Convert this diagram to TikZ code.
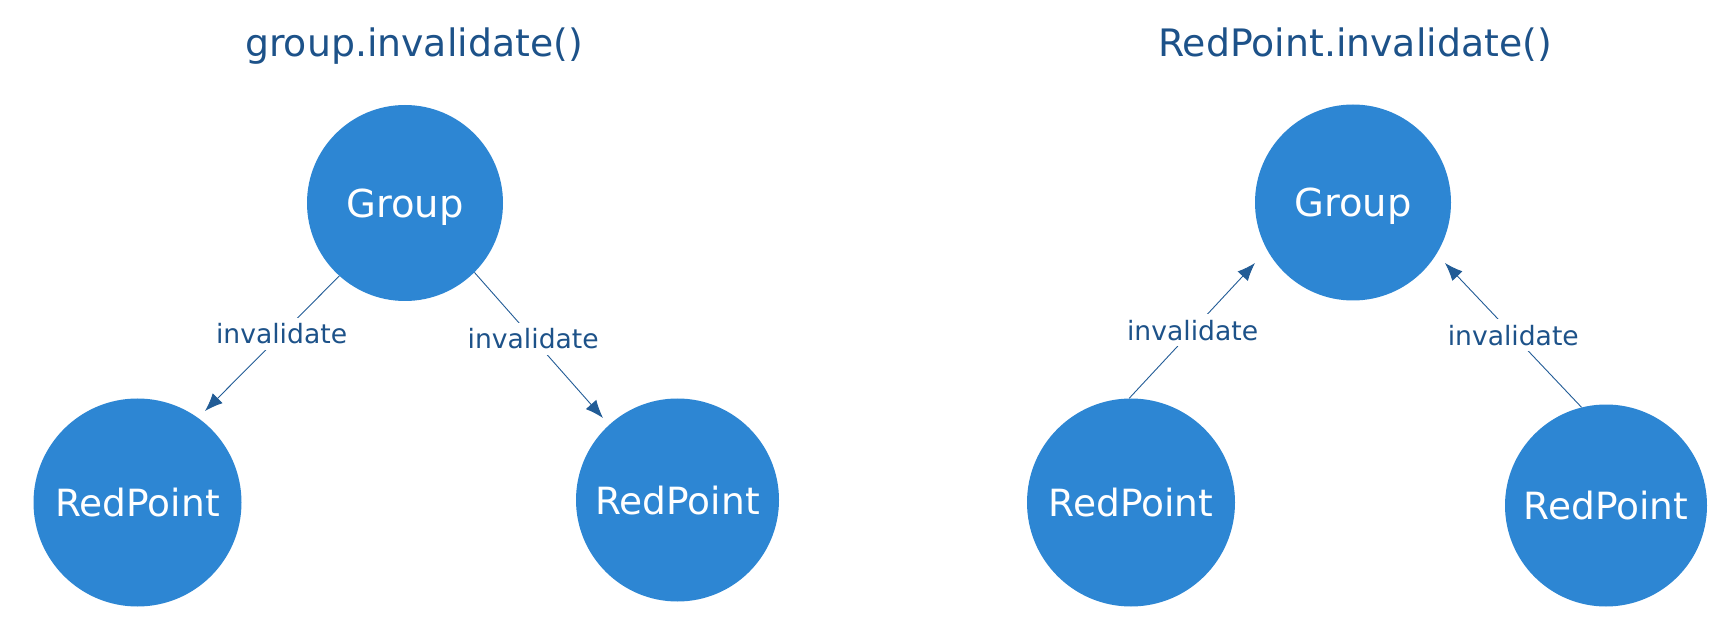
\documentclass[tikz,border=0pt]{standalone}
\usepackage{fontspec}
\setmainfont{DejaVu Sans}
\usetikzlibrary{arrows.meta}
\definecolor{circfill}{HTML}{2D86D3}
\definecolor{txtblue}{HTML}{1D5289}
\definecolor{arrblue}{HTML}{225C96}
\tikzset{
  blob/.style={circle, fill=circfill, draw=none, text=white, inner sep=0pt, text depth=0pt},
  grouptxt/.style={font=\fontsize{38.5}{42}\selectfont},
  redtxt/.style={font=\fontsize{37.5}{42}\selectfont},
  title/.style={text=txtblue, font=\fontsize{37.8}{42}\selectfont, anchor=base, inner sep=0pt},
  lbl/.style={text=txtblue, fill=white, font=\fontsize{26.6}{30}\selectfont, inner sep=6pt},
  arr/.style={draw=arrblue, line width=0.9pt, -{Latex[length=18pt,width=14pt]}}
}
\begin{document}
\begin{tikzpicture}[x=1pt,y=1pt]
\useasboundingbox (0,0) rectangle (1730,630);
% titles
\node[title] (t1) at (414,573) {group.invalidate()};
\node[title] (t2) at (1355,573) {RedPoint.invalidate()};
% left diagram
\node[blob, grouptxt, minimum size=196pt] (g1) at (405,427) {Group};
\node[blob, redtxt, minimum size=208pt] (r1) at (137.5,127.5) {RedPoint};
\node[blob, redtxt, minimum size=203pt] (r2) at (677.5,130) {RedPoint};
% right diagram
\node[blob, grouptxt, minimum size=196pt] (g2) at (1353,427.5) {Group};
\node[blob, redtxt, minimum size=208pt] (r3) at (1131,127.5) {RedPoint};
\node[blob, redtxt, minimum size=202pt] (r4) at (1606,124.5) {RedPoint};
% arrow tips
\coordinate (ta) at (205,219);
\coordinate (tb) at (603,212);
\coordinate (tc) at (1255,367);
\coordinate (td) at (1445,367);
% connectors
\draw[arr] (g1.228) -- node[lbl, pos=0.43] (la) {invalidate} (ta);
\draw[arr] (g1.315) -- node[lbl, pos=0.457] (lb) {invalidate} (tb);
\draw[arr] (r3.91) -- node[lbl, pos=0.504] (lc) {invalidate} (tc);
\draw[arr] (r4.104.5) -- node[lbl, pos=0.5] (ld) {invalidate} (td);
\end{tikzpicture}
\end{document}
